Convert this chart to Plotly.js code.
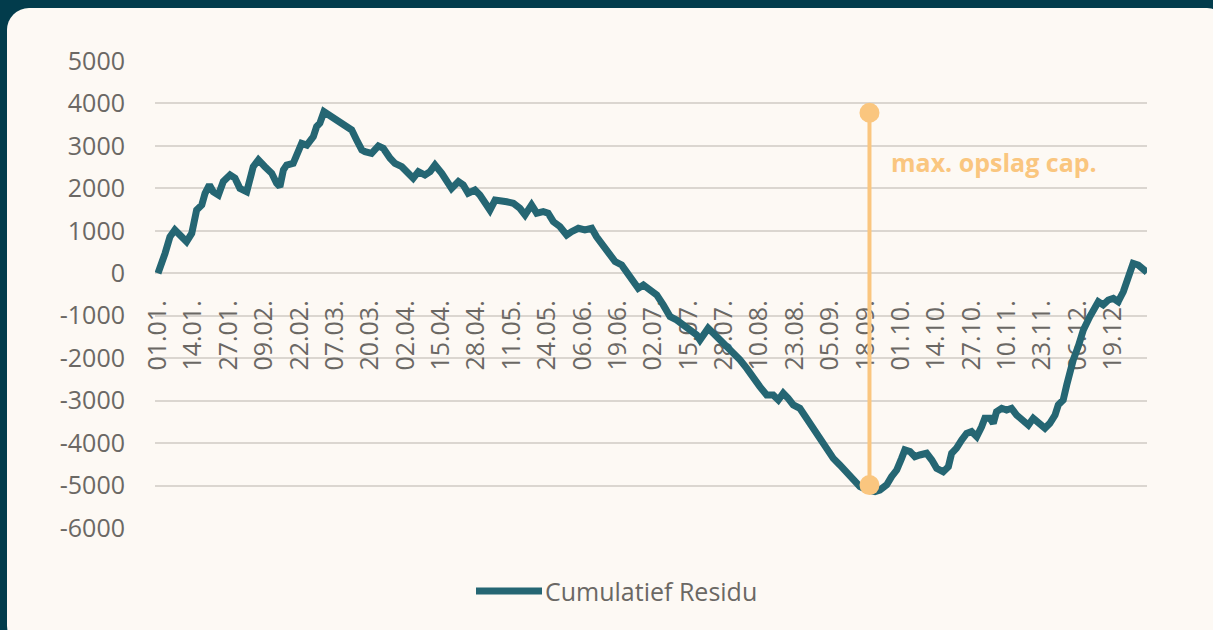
<!DOCTYPE html>
<html>
<head>
<meta charset="utf-8">
<script src="https://cdn.plot.ly/plotly-3.0.1.min.js"></script>
<style>
  html, body { margin: 0; padding: 0; background: #023c4c; width: 1213px; height: 630px; overflow: hidden; }
  #card { position: absolute; left: 7px; top: 8px; width: 1222px; height: 640px; border-radius: 22px; background: #fdf9f4; overflow: hidden; }
  #chart { position: absolute; left: 0; top: 0; width: 1206px; height: 622px; }
</style>
</head>
<body>
<div id="card"><div id="chart"></div></div>
<script>
// Day index (0 = 01.01.) and cumulative residual values
const days = [0, 1.4, 2.6, 4.4, 6.2, 8.7, 10.5, 12.4, 14.2, 16.1, 17.3, 18.9, 20.3, 22.2, 24.0, 26.5, 28.3, 30.1, 32.6, 35.0,
  36.9, 39.3, 41.8, 43.6, 44.8, 46.1, 47.3, 49.7, 51.6, 52.8, 54.7, 57.1, 58.3, 59.5, 61.0, 62.6, 65.1, 66.9, 68.7, 71.2,
  73.0, 74.9, 76.1, 78.5, 81.0, 82.8, 85.3, 87.1, 89.6, 92.0, 93.8, 95.7, 98.1, 100.0, 101.8, 104.3, 106.1, 107.9, 110.4, 112.2,
  114.0, 116.5, 118.3, 120.2, 122.0, 123.9, 125.7, 128.2, 130.6, 133.0, 134.9, 137.3, 139.2, 141.6, 143.4, 145.3, 147.7, 150.2, 152.0, 154.5,
  156.9, 159.4, 161.2, 163.5, 165.4, 168.0, 170.4, 172.3, 174.7, 176.5, 178.4, 180.8, 183.3, 185.7, 188.2, 190.6, 193.1, 195.5, 198.0, 199.2,
  200.4, 202.2, 204.1, 206.5, 209.0, 211.4, 213.9, 216.4, 218.8, 221.2, 223.7, 226.1, 228.0, 229.8, 231.6, 233.5, 235.9, 238.4, 240.8, 243.3,
  245.8, 248.2, 250.6, 253.1, 255.5, 258.0, 260.5, 263.5, 265.3, 267.8, 269.6, 271.5, 273.3, 274.5, 276.4, 278.2, 280.0, 282.5, 284.4, 286.2,
  288.6, 290.5, 291.7, 293.5, 295.4, 297.2, 299.0, 300.9, 302.7, 303.9, 305.8, 307.0, 308.2, 310.1, 311.9, 313.7, 315.6, 318.0, 319.9, 321.7,
  323.5, 326.0, 327.8, 329.7, 330.9, 332.7, 334.0, 335.2, 336.4, 338.2, 340.1, 342.5, 344.4, 345.6, 347.4, 349.3, 351.1, 352.9, 354.8, 356.0,
  357.2, 358.4, 360.3, 362.1, 363.5];
const residu = [0, 235, 470, 860, 1020, 860, 745, 940, 1490, 1610, 1885, 2080, 1920, 1845, 2160, 2315, 2240, 2000, 1920, 2510,
  2670, 2510, 2355, 2120, 2040, 2435, 2550, 2590, 2905, 3060, 3020, 3220, 3455, 3535, 3805, 3730, 3650, 3570, 3455, 3375,
  3140, 2905, 2865, 2825, 3000, 2945, 2710, 2590, 2510, 2355, 2240, 2395, 2315, 2395, 2550, 2355, 2160, 2000, 2160, 2080,
  1885, 1960, 1845, 1685, 1490, 1725, 1725, 1685, 1650, 1530, 1375, 1610, 1415, 1450, 1415, 1215, 1100, 900, 980, 1060,
  1020, 1060, 860, 640, 450, 275, 195, 0, -235, -355, -275, -395, -510, -745, -1020, -1100, -1220, -1335, -1455, -1570,
  -1455, -1295, -1415, -1570, -1690, -1845, -2040, -2240, -2475, -2670, -2865, -2865, -2985, -2825, -2945, -3100, -3180, -3415, -3690, -3925,
  -4160, -4360, -4515, -4675, -4870, -5025, -5100, -5145, -5105, -4985, -4790, -4635, -4360, -4160, -4200, -4320, -4280, -4240, -4400, -4595,
  -4675, -4555, -4240, -4120, -3925, -3770, -3730, -3850, -3615, -3415, -3415, -3535, -3260, -3180, -3220, -3180, -3340, -3495, -3575, -3415,
  -3495, -3650, -3535, -3340, -3100, -2985, -2630, -2280, -2040, -1730, -1335, -1020, -825, -670, -745, -630, -590, -670, -435, -200,
  120, 235, 195, 120, 20];

// Storage capacity marker (max to min)
const capDays = [261.5, 261.5];
const capValues = [3780, -4990];

// Axis ticks
const xTickDays = [0, 13, 26, 39, 52, 65, 78, 91, 104, 117, 130, 143, 156, 169, 182, 195, 208, 221, 234, 247, 260, 273, 286, 299, 312, 325, 338, 351];
const xTickLabels = ['01.01.', '14.01.', '27.01.', '09.02.', '22.02.', '07.03.', '20.03.', '02.04.', '15.04.', '28.04.', '11.05.', '24.05.',
  '06.06.', '19.06.', '02.07.', '15.07.', '28.07.', '10.08.', '23.08.', '05.09.', '18.09.', '01.10.', '14.10.', '27.10.', '10.11.', '23.11.',
  '06.12.', '19.12.'];
const yTickValues = [5000, 4000, 3000, 2000, 1000, 0, -1000, -2000, -3000, -4000, -5000, -6000];
const yTickLabels = ['5000', '4000', '3000', '2000', '1000', '0', '-1000', '-2000', '-3000', '-4000', '-5000', '-6000'];

const seriesName = 'Cumulatief Residu';
const capLabel = 'max. opslag cap.';

const W = 1206, H = 622;
const M = {l: 148, r: 66, t: 53, b: 102};
const plotW = W - M.l - M.r, plotH = H - M.t - M.b;
const px2x = px => (px - M.l) / plotW;
const px2y = py => (H - M.b - py) / plotH;

const teal = '#256673';
const orange = '#fac67f';
const grey = '#6b6864';
const font = 'Open Sans, Noto Sans, sans-serif';

const yMin = -6000, yMax = 5000;

const traces = [
  {
    x: days, y: residu, type: 'scatter', mode: 'lines', name: seriesName,
    line: {color: teal, width: 7}, showlegend: false, hoverinfo: 'skip'
  },
  {
    x: capDays, y: capValues, type: 'scatter', mode: 'lines+markers',
    line: {color: orange, width: 4}, marker: {color: orange, size: 20},
    showlegend: false, hoverinfo: 'skip'
  }
];

const layout = {
  width: W, height: H,
  margin: M,
  paper_bgcolor: 'rgba(0,0,0,0)',
  plot_bgcolor: 'rgba(0,0,0,0)',
  font: {family: font, size: 25, color: grey},
  showlegend: false,
  xaxis: {
    range: [-1.1, 363.5],
    anchor: 'free', position: (0 - yMin) / (yMax - yMin),
    showgrid: false, zeroline: false, showline: false,
    tickmode: 'array', tickvals: xTickDays, ticktext: xTickLabels,
    tickangle: -90, ticks: 'outside', ticklen: 16, tickcolor: 'rgba(0,0,0,0)',
    tickfont: {family: font, size: 25, color: grey},
    layer: 'below traces', automargin: false, fixedrange: true
  },
  yaxis: {
    range: [yMin, yMax],
    showgrid: true, gridcolor: '#dbd6d0', gridwidth: 2,
    zeroline: false, showline: false,
    tickmode: 'array', tickvals: yTickValues, ticktext: yTickLabels,
    ticks: 'outside', ticklen: 24, tickcolor: 'rgba(0,0,0,0)',
    tickfont: {family: font, size: 25, color: grey},
    automargin: false, fixedrange: true
  },
  shapes: [
    {type: 'line', xref: 'paper', yref: 'paper',
     x0: px2x(469), x1: px2x(535), y0: px2y(583), y1: px2y(583),
     line: {color: teal, width: 7}}
  ],
  annotations: [
    {xref: 'paper', yref: 'paper', x: px2x(536), y: px2y(583), xanchor: 'left', yanchor: 'middle',
     text: seriesName, showarrow: false, font: {family: font, size: 25, color: grey}},
    {xref: 'x', yref: 'y', x: 268.5, y: 2620, xanchor: 'left', yanchor: 'middle',
     text: '<b>' + capLabel + '</b>', showarrow: false, font: {family: font, size: 25, color: orange}}
  ]
};

Plotly.newPlot('chart', traces, layout, {displayModeBar: false, staticPlot: true});
</script>
</body>
</html>
